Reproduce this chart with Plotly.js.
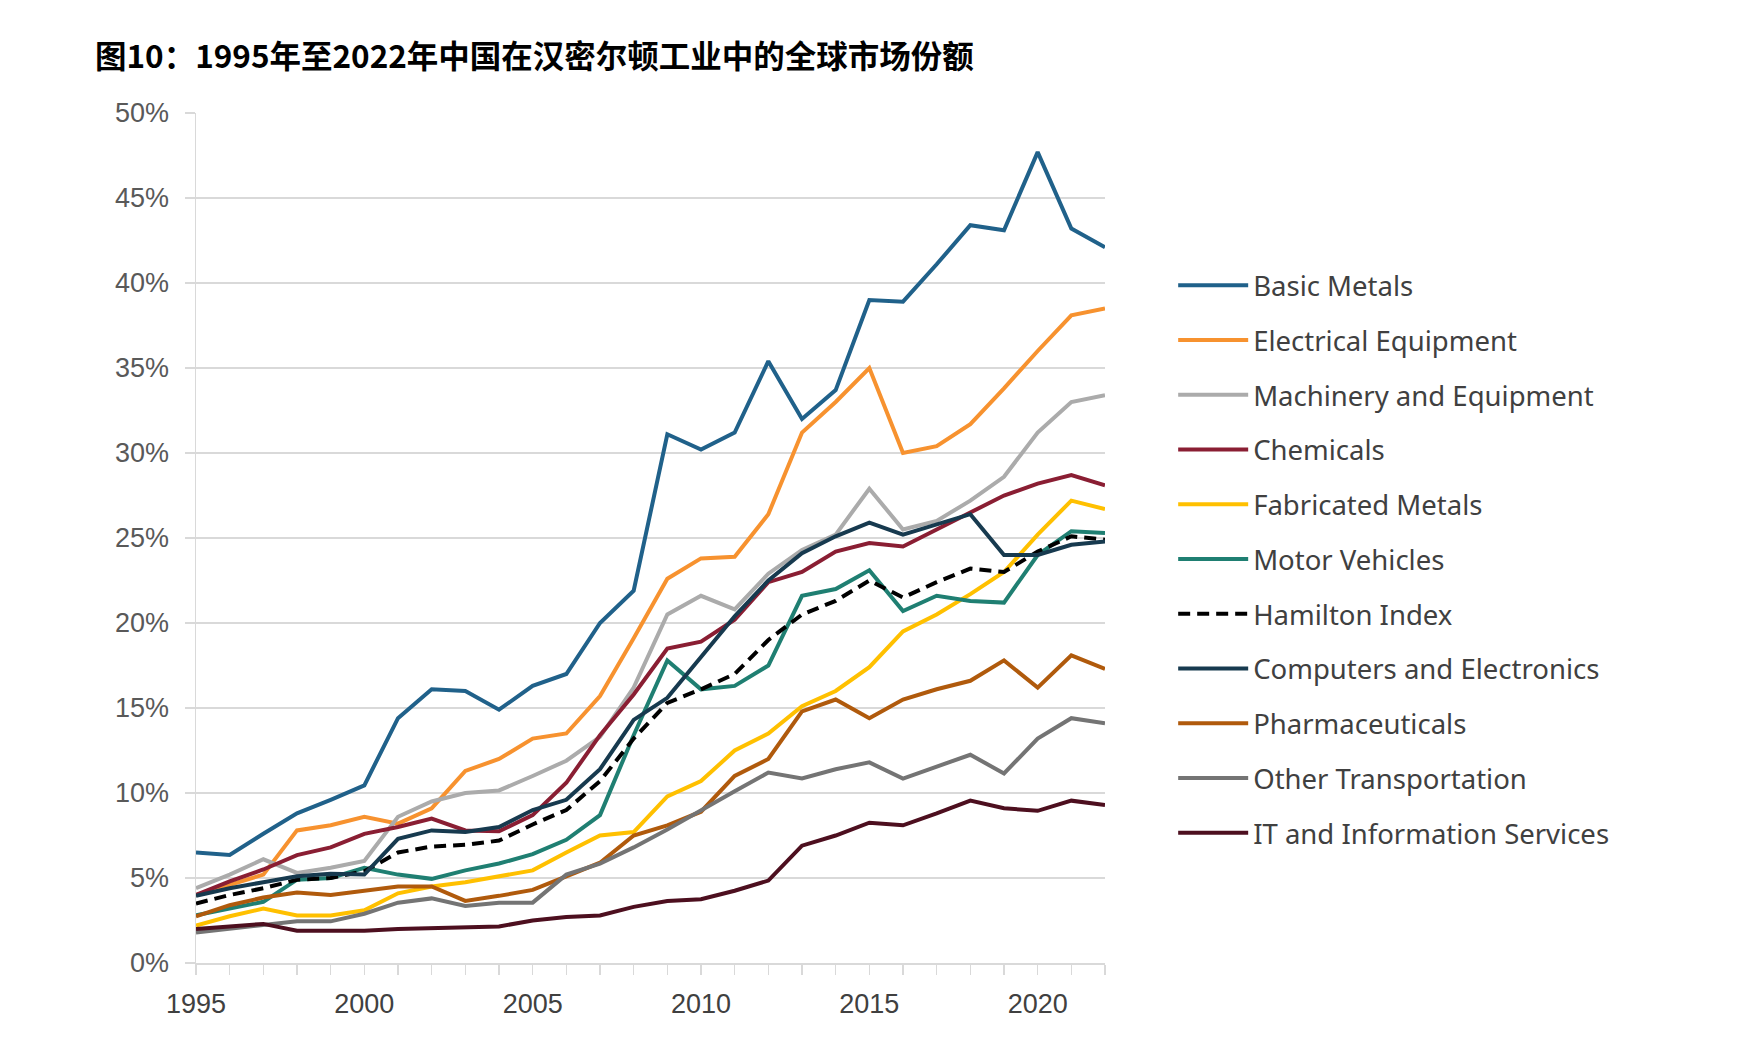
<!DOCTYPE html>
<html>
<head>
<meta charset="utf-8">
<script src="https://cdn.plot.ly/plotly-3.0.1.min.js"></script>
<style>html,body{margin:0;padding:0;background:#fff;}#chart{width:1746px;height:1044px;}</style>
</head>
<body>
<div id="chart"></div>
<script>
const years = [1995,1996,1997,1998,1999,2000,2001,2002,2003,2004,2005,2006,2007,2008,2009,2010,2011,2012,2013,2014,2015,2016,2017,2018,2019,2020,2021,2022];

const basicMetals = [6.5,6.35,7.6,8.8,9.6,10.45,14.4,16.1,16.0,14.9,16.3,17.0,20.0,21.9,31.1,30.2,31.2,35.4,32.0,33.7,39.0,38.9,41.1,43.4,43.1,47.7,43.2,42.1];
const electricalEquipment = [4.0,4.6,5.2,7.8,8.1,8.6,8.2,9.1,11.3,12.0,13.2,13.5,15.7,19.1,22.6,23.8,23.9,26.4,31.2,33.0,35.0,30.0,30.4,31.7,33.8,36.0,38.1,38.5];
const machinery = [4.4,5.2,6.1,5.3,5.6,6.0,8.6,9.5,10.0,10.15,11.0,11.9,13.3,16.2,20.5,21.6,20.8,22.9,24.3,25.2,27.9,25.5,26.0,27.2,28.6,31.2,33.0,33.4];
const chemicals = [4.0,4.8,5.5,6.35,6.8,7.6,8.0,8.5,7.8,7.75,8.7,10.6,13.4,15.8,18.5,18.9,20.2,22.4,23.0,24.2,24.7,24.5,25.5,26.5,27.5,28.2,28.7,28.1];
const fabricatedMetals = [2.2,2.75,3.2,2.8,2.8,3.1,4.1,4.5,4.75,5.1,5.45,6.5,7.5,7.7,9.8,10.7,12.5,13.5,15.1,16.0,17.4,19.5,20.5,21.7,23.0,25.2,27.2,26.7];
const motorVehicles = [2.8,3.2,3.6,4.9,5.0,5.6,5.2,4.95,5.45,5.85,6.4,7.25,8.7,13.4,17.8,16.1,16.3,17.5,21.6,22.0,23.1,20.7,21.6,21.3,21.2,24.0,25.4,25.3];
const hamiltonIndex = [3.5,4.0,4.4,4.9,5.0,5.4,6.5,6.85,6.95,7.2,8.15,9.0,10.7,13.2,15.3,16.1,17.0,19.0,20.5,21.3,22.5,21.5,22.4,23.2,23.0,24.2,25.1,24.9];
const computers = [3.95,4.4,4.75,5.1,5.25,5.2,7.3,7.8,7.7,8.0,9.0,9.6,11.4,14.3,15.6,18.0,20.4,22.5,24.1,25.1,25.9,25.2,25.8,26.4,24.0,24.0,24.6,24.8];
const pharmaceuticals = [2.75,3.4,3.85,4.15,4.0,4.25,4.5,4.5,3.65,3.95,4.3,5.1,5.9,7.5,8.1,8.9,11.0,12.0,14.8,15.5,14.4,15.5,16.1,16.6,17.8,16.2,18.1,17.3];
const otherTransport = [1.8,2.0,2.2,2.45,2.45,2.9,3.55,3.8,3.35,3.55,3.55,5.2,5.85,6.8,7.85,9.0,10.1,11.2,10.85,11.4,11.8,10.85,11.55,12.25,11.15,13.2,14.4,14.1];
const itServices = [2.0,2.15,2.3,1.9,1.9,1.9,2.0,2.05,2.05,2.15,2.5,2.7,2.8,3.3,3.65,3.75,4.25,4.85,6.9,7.5,8.25,8.1,8.8,9.55,9.1,8.95,9.55,9.3];

const seriesNames = ["Basic Metals","Electrical Equipment","Machinery and Equipment","Chemicals","Fabricated Metals","Motor Vehicles","Hamilton Index","Computers and Electronics","Pharmaceuticals","Other Transportation","IT and Information Services"];
const seriesValues = [basicMetals,electricalEquipment,machinery,chemicals,fabricatedMetals,motorVehicles,hamiltonIndex,computers,pharmaceuticals,otherTransport,itServices];
const seriesColors = ["#20618A","#F7922F","#ABABAB","#8A1E33","#FFC000","#1F7F72","#000000","#173A4F","#B05A0C","#747474","#4D0F1F"];
const titleText = "图10：1995年至2022年中国在汉密尔顿工业中的全球市场份额";

const traces = seriesNames.map((name, i) => ({
  type: "scatter",
  mode: "lines",
  name: name,
  x: years,
  y: seriesValues[i],
  legendgroup: "g" + i,
  line: {
    color: seriesColors[i],
    width: 4,
    dash: name === "Hamilton Index" ? "12px,7px" : "solid"
  },
  hoverinfo: "skip"
}));

const layout = {
  width: 1746,
  height: 1044,
  paper_bgcolor: "#ffffff",
  plot_bgcolor: "#ffffff",
  margin: {l: 196, r: 641, t: 113, b: 81, pad: 0},
  title: {
    text: "<b>" + titleText + "</b>",
    font: {family: "Noto Sans CJK SC", size: 31.5, color: "#000000"},
    x: 95 / 1746, xref: "container", xanchor: "left",
    y: 1 - 57 / 1044, yref: "container", yanchor: "middle"
  },
  xaxis: {
    range: [1995, 2022],
    tick0: 1995,
    dtick: 5,
    ticks: "outside",
    ticklen: 10,
    tickwidth: 1.5,
    tickcolor: "#D9D9D9",
    minor: {dtick: 1, tick0: 1995, ticks: "outside", ticklen: 10, tickwidth: 1.5, tickcolor: "#D9D9D9", showgrid: false},
    showgrid: false,
    zeroline: false,
    showline: true,
    linecolor: "#D9D9D9",
    linewidth: 1.5,
    tickfont: {family: "Liberation Sans", size: 27, color: "#404040"},
    ticklabelstandoff: 6,
    fixedrange: true
  },
  yaxis: {
    range: [0, 50],
    tick0: 0,
    dtick: 5,
    ticksuffix: "%",
    ticks: "outside",
    ticklen: 10,
    tickwidth: 1.5,
    tickcolor: "#D9D9D9",
    showgrid: true,
    gridcolor: "#D9D9D9",
    gridwidth: 1.5,
    zeroline: false,
    showline: true,
    linecolor: "#D9D9D9",
    linewidth: 1.5,
    tickfont: {family: "Liberation Sans", size: 27, color: "#595959"},
    ticklabelstandoff: 10,
    fixedrange: true
  },
  showlegend: true,
  legend: {
    x: 1.075,
    xanchor: "left",
    y: 0.826,
    yanchor: "top",
    font: {family: "Noto Sans", size: 27.5, color: "#404040"},
    itemwidth: 70,
    tracegroupgap: 16,
    traceorder: "grouped",
    bgcolor: "rgba(0,0,0,0)"
  }
};

Plotly.newPlot("chart", traces, layout, {staticPlot: true, displayModeBar: false});
</script>
</body>
</html>
